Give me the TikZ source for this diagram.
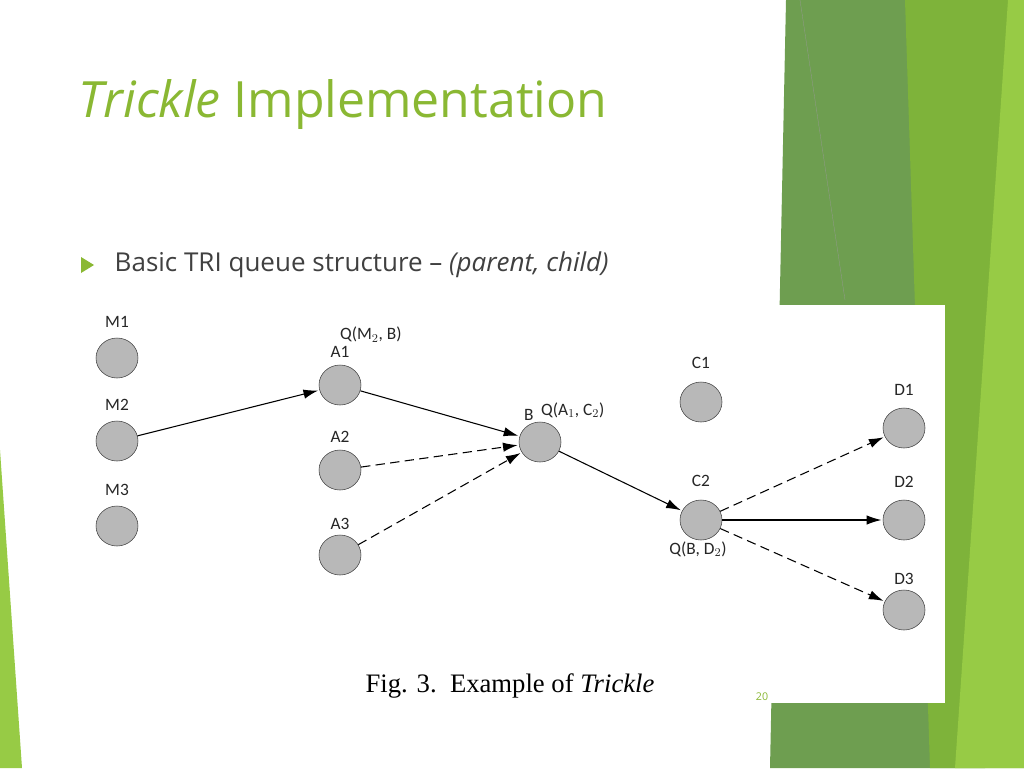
\documentclass[tikz,border=0pt]{standalone}
\usepackage{fontspec}
\setmainfont{Carlito}
\newfontfamily\capfont{Liberation Serif}
\newfontfamily\titlefont{Open Sans}
\usetikzlibrary{arrows.meta, positioning, shapes}
\definecolor{slidegreen}{HTML}{8AB833}
\definecolor{darkband}{HTML}{6E9E50}
\definecolor{midband}{HTML}{7EB33A}
\definecolor{lightband}{HTML}{97CB45}
\tikzset{
  peer/.style   = {draw=black!75, fill=black!28, ellipse, minimum width=31.5pt, minimum height=30pt, inner sep=0pt},
  tag/.style    = {font=\fontsize{13}{13}\selectfont, text=black!85},
  link/.style   = {-{Latex[length=11pt, width=7pt]}, thick, shorten >=1pt},
  maybe/.style  = {link, dash pattern=on 7pt off 4pt}
}
\begin{document}
\begin{tikzpicture}[x=0.75pt, y=-0.75pt]
\useasboundingbox (0,0) rectangle (1024,768);
\fill[white] (0,0) rectangle (1024,768);

% green decoration
\fill[darkband]  (786,0) -- (905,0) -- (985,768) -- (770,768) -- cycle;
\fill[midband]   (905,0) -- (1024,0) -- (1024,768) -- (930,768) -- cycle;
\fill[lightband] (1008,0) -- (1024,0) -- (1024,768) -- (955,768) -- cycle;
\fill[lightband] (0,450) -- (22,768) -- (0,768) -- cycle;
\draw[black!40, very thin] (800,0) -- (845,300);

% title and bullet
\node[anchor=west, text=slidegreen, font=\titlefont\fontsize{37.5}{37.5}\selectfont] (title) at (74,105) {\textit{Trickle} Implementation};
\fill[slidegreen] (81,257) -- (94,265) -- (81,273) -- cycle;
\node[anchor=west, text=black!75, font=\titlefont\fontsize{19.5}{19.5}\selectfont] (point) at (110,265) {Basic TRI queue structure \textendash\ \textit{(parent, child)}};

% figure panel
\fill[white] (75,305) rectangle (945,703);

\node[peer] (m1) at (117,358) {};
\node[peer] (m2) at (117,441) {};
\node[peer] (m3) at (117,526) {};
\node[peer] (a1) at (340,385) {};
\node[peer] (a2) at (340,470) {};
\node[peer] (a3) at (340,555) {};
\node[peer] (b)  at (540,442) {};
\node[peer] (c1) at (701,402) {};
\node[peer] (c2) at (701,520) {};
\node[peer] (d1) at (904,428) {};
\node[peer] (d2) at (904,520) {};
\node[peer] (d3) at (904,610) {};

\node[tag, above=4pt of m1] {M1};
\node[tag, above=4pt of m2] {M2};
\node[tag, above=4pt of m3] {M3};
\node[tag, above=2pt of a1] (la1) {A1};
\node[tag, above=2pt of a2] {A2};
\node[tag, above=0pt of a3] {A3};
\node[tag, above right=-4pt and -14pt of la1] {Q(M$_2$, B)};
\node[tag, above left=2pt and -10pt of b] {B};
\node[tag, above right=4pt and -14pt of b] {Q(A$_1$, C$_2$)};
\node[tag, above=6pt of c1] {C1};
\node[tag, above=6pt of c2] {C2};
\node[tag, below left=2pt and -34pt of c2] {Q(B, D$_2$)};
\node[tag, above=6pt of d1] {D1};
\node[tag, above=6pt of d2] {D2};
\node[tag, above=0pt of d3] {D3};

\draw[link]  (m2) -- (a1);
\draw[link]  (a1) -- (b);
\draw[maybe] (a2) -- (b);
\draw[maybe] (a3) -- (b);
\draw[link]  (b)  -- (c2);
\draw[maybe] (c2) -- (d1);
\draw[link]  (c2) -- (d2);
\draw[maybe] (c2) -- (d3);

\node[font=\capfont\fontsize{20}{20}\selectfont] (caption) at (510,686) {Fig. 3.\ \ Example of \textit{Trickle}};
\node[text=slidegreen, font=\titlefont\fontsize{8}{8}\selectfont] (page) at (762,697) {20};
\end{tikzpicture}
\end{document}
